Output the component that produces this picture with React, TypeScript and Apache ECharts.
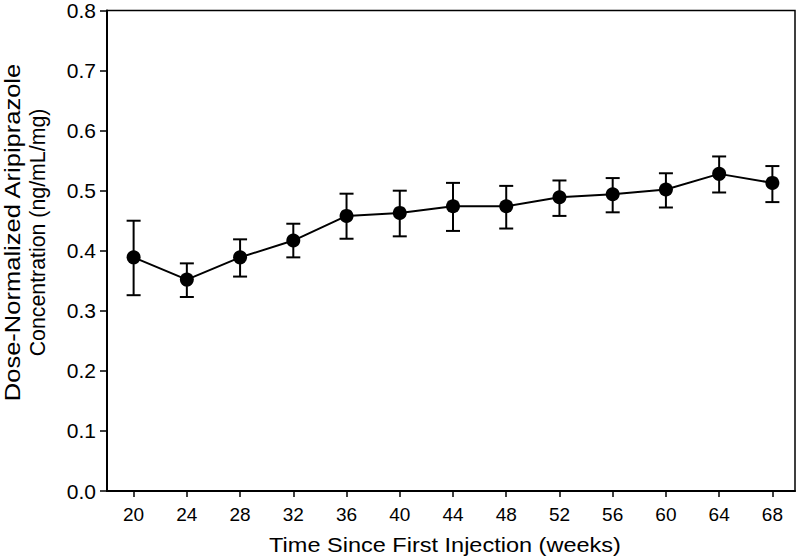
import React, { useEffect, useRef } from "react";
import * as echarts from "echarts";

const weeks = [20, 24, 28, 32, 36, 40, 44, 48, 52, 56, 60, 64, 68];
const meanConc = [0.389, 0.352, 0.389, 0.417, 0.458, 0.463, 0.474, 0.474, 0.489, 0.494, 0.502, 0.528, 0.513];
const lowerConc = [0.326, 0.323, 0.357, 0.389, 0.42, 0.424, 0.433, 0.437, 0.458, 0.464, 0.472, 0.497, 0.481];
const upperConc = [0.45, 0.379, 0.419, 0.445, 0.495, 0.5, 0.513, 0.508, 0.517, 0.521, 0.529, 0.557, 0.541];

const xTitle = "Time Since First Injection (weeks)";
const yTitleLine1 = "Dose-Normalized Aripiprazole";
const yTitleLine2 = "Concentration (ng/mL/mg)";

const FONT = "'Liberation Sans', Arial, Helvetica, sans-serif";

export default function App() {
  const ref = useRef<HTMLDivElement>(null);
  useEffect(() => {
    document.body.style.margin = "0";
    if (!ref.current) return;
    const chart = echarts.init(ref.current, null, { renderer: "svg" });
    const errData = weeks.map((w, i) => [w, lowerConc[i], upperConc[i]]);
    const titleStyle = {
      fontSize: 22,
      fontFamily: FONT,
      fill: "#000",
      align: "center",
      verticalAlign: "middle",
    };
    chart.setOption({
      animation: false,
      backgroundColor: "#fff",
      grid: {
        left: 107,
        right: 5,
        top: 6,
        bottom: 69,
        show: true,
        borderColor: "#000",
        borderWidth: 1.5,
        backgroundColor: "transparent",
      },
      xAxis: {
        type: "value",
        min: 18,
        max: 69.7,
        splitLine: { show: false },
        axisLine: { show: true, onZero: false, lineStyle: { color: "#000", width: 2 } },
        axisTick: {
          show: true,
          length: 6,
          customValues: weeks,
          lineStyle: { color: "#000", width: 1.5 },
        },
        axisLabel: {
          customValues: weeks,
          margin: 14,
          fontSize: 19,
          color: "#000",
          fontFamily: FONT,
        },
      },
      yAxis: {
        type: "value",
        min: 0,
        max: 0.8,
        interval: 0.1,
        splitLine: { show: false },
        axisLine: { show: true, lineStyle: { color: "#000", width: 2 } },
        axisTick: { show: true, length: 7, lineStyle: { color: "#000", width: 1.5 } },
        axisLabel: {
          margin: 11,
          fontSize: 21,
          color: "#000",
          fontFamily: FONT,
          formatter: (v: number) => v.toFixed(1),
        },
      },
      graphic: [
        {
          type: "text",
          x: 12.5,
          y: 232.5,
          rotation: Math.PI / 2,
          scaleX: 1.16,
          style: { ...titleStyle, text: yTitleLine1 },
        },
        {
          type: "text",
          x: 37.5,
          y: 232.5,
          rotation: Math.PI / 2,
          scaleX: 0.97,
          style: { ...titleStyle, text: yTitleLine2 },
        },
        {
          type: "text",
          x: 445,
          y: 545,
          scaleX: 1.12,
          style: { ...titleStyle, fontSize: 21, text: xTitle },
        },
      ],
      series: [
        {
          type: "custom",
          data: errData,
          z: 2,
          renderItem: (params: any, api: any) => {
            const x = api.value(0);
            const lo = api.coord([x, api.value(1)]);
            const hi = api.coord([x, api.value(2)]);
            const hw = 7;
            const style = { stroke: "#000", lineWidth: 2 };
            return {
              type: "group",
              children: [
                { type: "line", shape: { x1: lo[0], y1: lo[1], x2: hi[0], y2: hi[1] }, style },
                { type: "line", shape: { x1: lo[0] - hw, y1: lo[1], x2: lo[0] + hw, y2: lo[1] }, style },
                { type: "line", shape: { x1: hi[0] - hw, y1: hi[1], x2: hi[0] + hw, y2: hi[1] }, style },
              ],
            };
          },
        },
        {
          type: "line",
          data: weeks.map((w, i) => [w, meanConc[i]]),
          symbol: "circle",
          symbolSize: 14,
          z: 3,
          itemStyle: { color: "#000" },
          lineStyle: { color: "#000", width: 2 },
        },
      ],
    });
    return () => chart.dispose();
  }, []);
  return <div ref={ref} style={{ width: 800, height: 560 }} />;
}
